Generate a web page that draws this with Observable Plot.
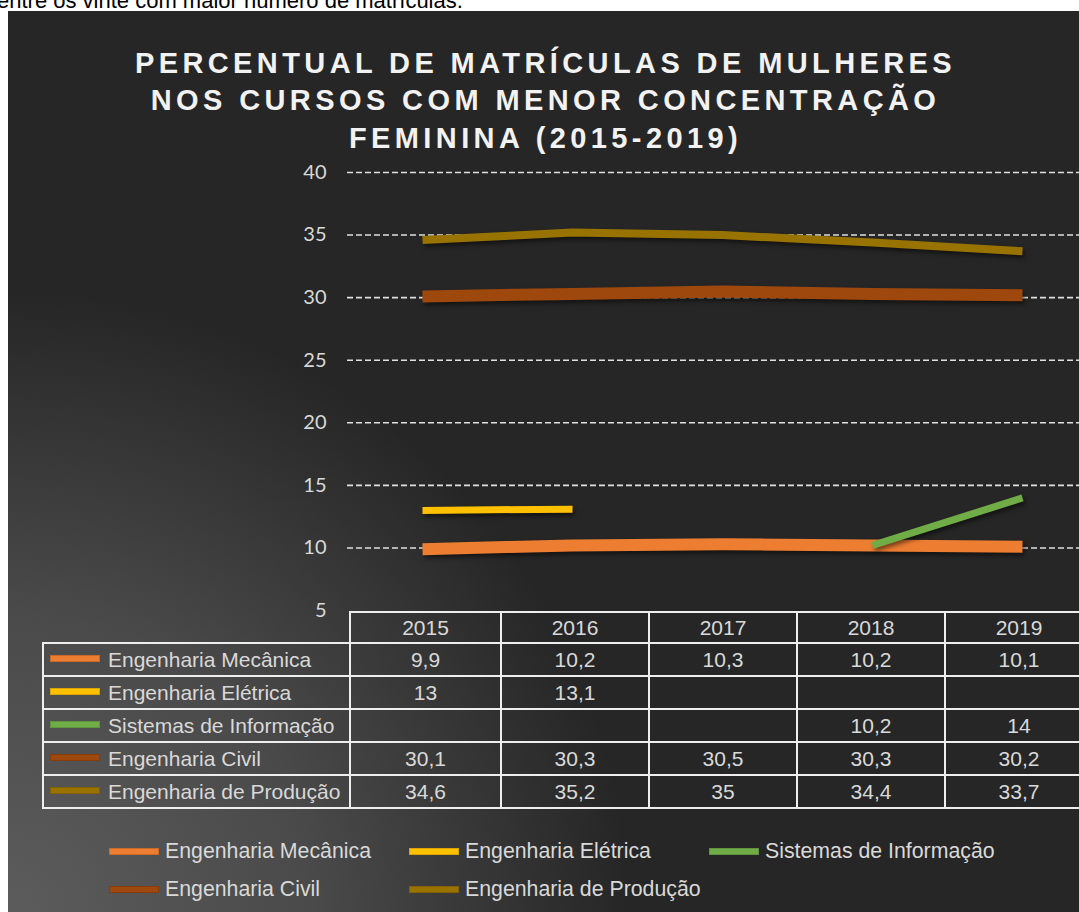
<!DOCTYPE html>
<html><head><meta charset="utf-8">
<script src="https://cdn.jsdelivr.net/npm/d3@7"></script>
<script src="https://cdn.jsdelivr.net/npm/@observablehq/plot@0.6"></script>
<style>
html,body{margin:0;padding:0;background:#fff;overflow:hidden;width:1079px;height:912px;}
body{position:relative;font-family:"Liberation Sans",Arial,sans-serif;}
#intro{position:absolute;left:-3px;top:-12px;font-size:22px;color:#000;white-space:nowrap;}
#panel{position:absolute;left:8px;top:11px;width:1071px;height:901px;background:radial-gradient(circle at 0% 100%, #5c5c5c 0px, #4a4a4a 300px, #262626 620px);}
#title{position:absolute;left:8px;width:1071px;top:45px;text-align:center;font-weight:bold;font-size:29px;line-height:37.3px;letter-spacing:4.4px;color:#f2f2f2;padding-left:4px;box-sizing:border-box;}
#chart{position:absolute;left:0;top:150px;}
#chart g[aria-label="line"] path{filter:drop-shadow(2px 3px 2px rgba(0,0,0,0.5));}
#tbl{position:absolute;left:42px;top:611px;border-collapse:collapse;table-layout:fixed;color:#d9d9d9;font-size:21px;width:1050px;}
#tbl td{border:2px solid #eeeeee;padding:0;text-align:center;height:31px;white-space:nowrap;overflow:hidden;}
#tbl tr.h td{height:29px;}
#tbl td.empty{border-top:none;border-left:none;}
#tbl td.lab{text-align:left;}
.sw{display:inline-block;width:50px;height:7px;vertical-align:middle;margin-left:6px;margin-right:8px;position:relative;top:-2px;box-sizing:border-box;border:1px solid rgba(0,0,0,0.15);}
#legend{position:absolute;left:109px;top:832px;width:900px;display:flex;flex-wrap:wrap;color:#d9d9d9;font-size:21.3px;}
#legend .it{width:300px;height:38px;display:flex;align-items:center;white-space:nowrap;}
#legend .sw{margin-left:0;margin-right:6px;top:0;}
</style></head>
<body>
<div id="intro">entre os vinte com maior número de matrículas.</div>
<div id="panel"></div>
<div id="title">PERCENTUAL DE MATRÍCULAS DE MULHERES<br>NOS CURSOS COM MENOR CONCENTRAÇÃO<br>FEMININA (2015-2019)</div>
<div id="chart"></div>
<table id="tbl"></table>
<div id="legend"></div>
<script>
const years = ["2015","2016","2017","2018","2019"];
const courses = ["Engenharia Mecânica","Engenharia Elétrica","Sistemas de Informação","Engenharia Civil","Engenharia de Produção"];
const mecanica = [9.9, 10.2, 10.3, 10.2, 10.1];
const eletrica = [13, 13.1, null, null, null];
const sistemas = [null, null, null, 10.2, 14];
const civil = [30.1, 30.3, 30.5, 30.3, 30.2];
const producao = [34.6, 35.2, 35, 34.4, 33.7];
const yTicks = [5, 10, 15, 20, 25, 30, 35, 40];
const gridTicks = [10, 15, 20, 25, 30, 35, 40];
const colors = ["#ED7D31", "#FFC000", "#70AD47", "#9E480E", "#997300"];
const widths = [12, 7, 7, 12, 8];

const series = [mecanica, eletrica, sistemas, civil, producao];
const rows = [];
series.forEach((vals, i) => vals.forEach((v, j) => { if (v != null) rows.push({course: courses[i], year: years[j], value: v}); }));

const chart = Plot.plot({
  width: 1079, height: 475,
  marginLeft: 347, marginRight: 0, marginTop: 22, marginBottom: 15,
  style: {background: "transparent", color: "#d9d9d9", fontFamily: "Lato, sans-serif", fontSize: "20px", overflow: "visible"},
  x: {type: "point", domain: years, range: [422, 1022], padding: 0, axis: null},
  y: {domain: [5, 40]},
  marks: [
    Plot.ruleY(gridTicks, {stroke: "#e0e0e0", strokeWidth: 1.6, strokeDasharray: "6,3"}),
    Plot.axisY(yTicks, {tickSize: 0, tickPadding: 21, fontSize: 20, fill: "#d9d9d9", label: null}),
    ...courses.map((c, i) => Plot.line(rows.filter(r => r.course === c), {
      x: "year", y: "value", stroke: colors[i], strokeWidth: widths[i], strokeLinecap: "butt", strokeLinejoin: "round"
    }))
  ]
});
document.getElementById("chart").appendChild(chart);

const fmt = v => v == null ? "" : String(v).replace(".", ",");
const tbl = document.getElementById("tbl");
const colW = [307, 151, 148, 148, 148, 148];
const cg = document.createElement("colgroup");
colW.forEach(w => { const c = document.createElement("col"); c.style.width = w + "px"; cg.appendChild(c); });
tbl.appendChild(cg);
let tr = document.createElement("tr"); tr.className = "h";
let td = document.createElement("td"); td.className = "empty"; tr.appendChild(td);
years.forEach(y => { const t = document.createElement("td"); t.textContent = y; tr.appendChild(t); });
tbl.appendChild(tr);
courses.forEach((c, i) => {
  const r = document.createElement("tr");
  const l = document.createElement("td"); l.className = "lab";
  l.innerHTML = `<span class="sw" style="background:${colors[i]}"></span>${c}`;
  r.appendChild(l);
  series[i].forEach(v => { const t = document.createElement("td"); t.textContent = fmt(v); r.appendChild(t); });
  tbl.appendChild(r);
});

const lg = document.getElementById("legend");
courses.forEach((c, i) => {
  const d = document.createElement("div"); d.className = "it";
  d.innerHTML = `<span class="sw" style="background:${colors[i]}"></span>${c}`;
  lg.appendChild(d);
});
</script>
</body></html>
